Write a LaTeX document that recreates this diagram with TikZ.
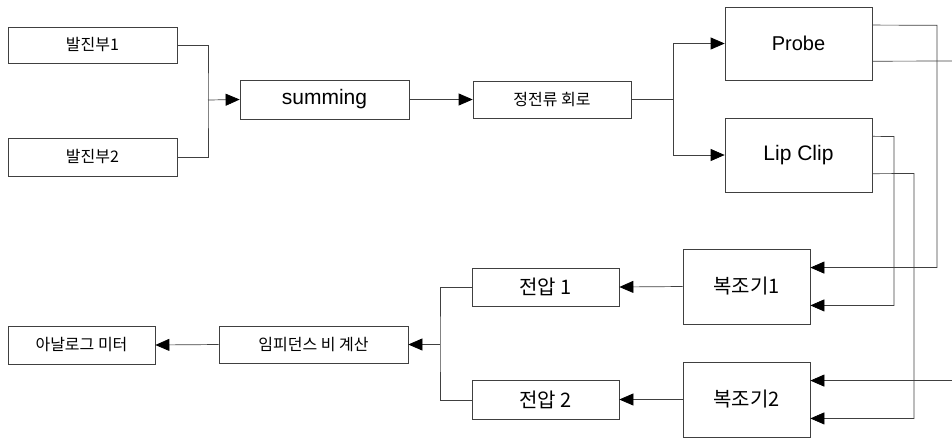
\documentclass[tikz,border=0pt]{standalone}
\usepackage{fontspec}
\setmainfont{Liberation Sans}
\newfontfamily\kr{Noto Sans CJK KR}
\usetikzlibrary{arrows.meta,calc}
\begin{document}
\begin{tikzpicture}[x=1pt,y=-1pt,
  blk/.style={draw=black!75,line width=0.7pt,inner sep=0pt,align=center},
  wire/.style={draw=black!75,line width=0.7pt},
  arr/.style={wire,-{Triangle[length=14pt,width=12pt,black]}},
  smallkr/.style={font=\kr\fontsize{16}{19}\selectfont},
  bigkr/.style={font=\kr\fontsize{20}{23}\selectfont},
  lat/.style={font=\fontsize{21}{24}\selectfont}]
\useasboundingbox (0,0) rectangle (952,437);
% nodes
\node[blk,smallkr,minimum width=169pt,minimum height=36pt] (osc1) at (92.5,45) {발진부1};
\node[blk,smallkr,minimum width=169pt,minimum height=38pt] (osc2) at (92.5,157) {발진부2};
\node[blk,lat,minimum width=169pt,minimum height=39pt] (sum) at (324.5,99.5) {summing};
\node[blk,smallkr,minimum width=158pt,minimum height=37pt] (ccc) at (552,99.5) {정전류 회로};
\node[blk,lat,font=\fontsize{20}{24}\selectfont,minimum width=147pt,minimum height=73pt] (probe) at (798.5,43.5) {Probe};
\node[blk,lat,minimum width=147pt,minimum height=74pt] (lip) at (798.5,155) {Lip Clip};
\node[blk,bigkr,minimum width=127pt,minimum height=75pt] (dm1) at (746.5,286.5) {복조기1};
\node[blk,bigkr,minimum width=127pt,minimum height=75pt] (dm2) at (746.5,399.5) {복조기2};
\node[blk,bigkr,minimum width=147pt,minimum height=38pt] (v1) at (545.5,287) {전압 1};
\node[blk,bigkr,minimum width=147pt,minimum height=39pt] (v2) at (545.5,400) {전압 2};
\node[blk,smallkr,minimum width=189pt,minimum height=37pt] (imp) at (313.5,344.5) {임피던스 비 계산};
\node[blk,smallkr,minimum width=147pt,minimum height=38pt] (met) at (81.5,345) {아날로그 미터};
% junctions
\coordinate (j1) at (208,100);
\coordinate (j2) at (673,99.5);
\coordinate (j3) at (440,344.5);
\coordinate (pa) at ($(probe.north east)!0.25!(probe.south east)$);
\coordinate (pb) at ($(probe.north east)!0.74!(probe.south east)$);
\coordinate (la) at ($(lip.north east)!0.25!(lip.south east)$);
\coordinate (lb) at ($(lip.north east)!0.75!(lip.south east)$);
\coordinate (d1a) at ($(dm1.north east)!0.25!(dm1.south east)$);
\coordinate (d1b) at ($(dm1.north east)!0.75!(dm1.south east)$);
\coordinate (d2a) at ($(dm2.north east)!0.25!(dm2.south east)$);
\coordinate (d2b) at ($(dm2.north east)!0.75!(dm2.south east)$);
% connectors
\draw[wire] (osc1.east) -| (j1) |- (osc2.east);
\draw[arr] (j1) -- (sum.west);
\draw[arr] (sum.east) -- (ccc.west);
\draw[wire] (ccc.east) -- (j2);
\draw[arr] (j2) |- (probe.west);
\draw[arr] (j2) |- (lip.west);
\draw[arr] (pa) -- (937,25.25) |- (d1a);
\draw[arr] (la) -- (894,136.5) |- (d1b);
\draw[arr] (lb) -- (914,173.5) |- (d2b);
\draw[arr] (pb) -- (962,61) |- (d2a);
\draw[arr] (dm1.west) -- (v1.east);
\draw[arr] (dm2.west) -- (dm2.west -| v2.east);
\draw[wire] (v1.west) -| (j3) |- (v2.west);
\draw[arr] (j3) -- (imp.east);
\draw[arr] (imp.west) -- (met.east);
\end{tikzpicture}
\end{document}
